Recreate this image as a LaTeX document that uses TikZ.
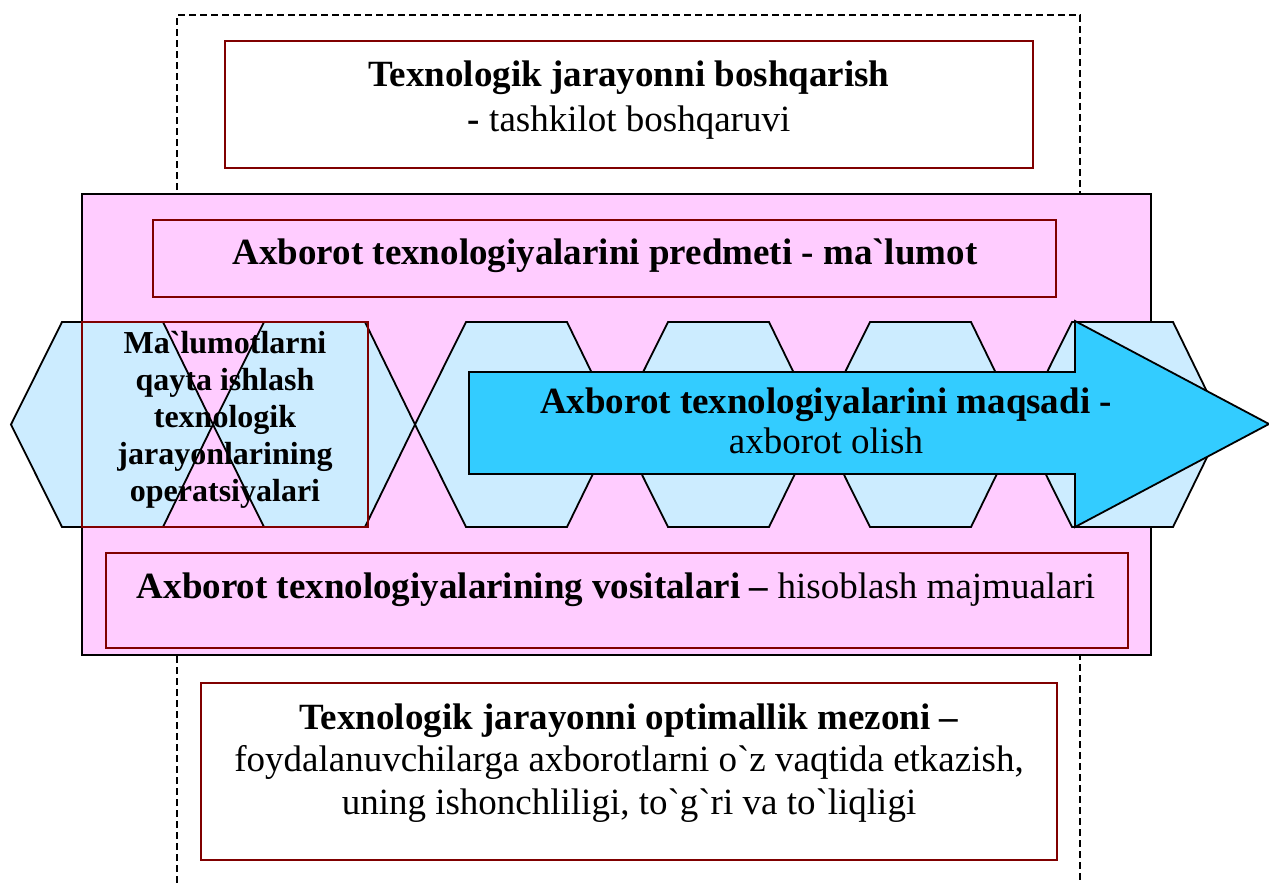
\documentclass[tikz,border=0pt]{standalone}
\usepackage{fontspec}
\setmainfont{Liberation Serif}[Ligatures=TeXOff]
\usepackage{xcolor}
\definecolor{boxred}{HTML}{800000}
\definecolor{pinkbg}{HTML}{FFCCFF}
\definecolor{hexblue}{HTML}{CCECFF}
\definecolor{arrowblue}{HTML}{33CCFF}
\usetikzlibrary{arrows,shapes,calc,positioning}

\begin{document}
\begin{tikzpicture}[x=1pt, y=-1pt]
	\tikzstyle{every node}=[font=\fontsize{37}{43}\selectfont, align=center, inner sep=0pt]
	\tikzstyle{redbox}=[draw=boxred, line width=1.8pt]
	\tikzstyle{hexa}=[draw=black, fill=hexblue, line width=1.8pt]
	\useasboundingbox (0,0) rectangle (1269,883);
	\draw [line width=1.3pt, dash pattern=on 7pt off 4pt] (177,883) -- (177,15) -- (1080,15) -- (1080,883);
	\draw [redbox, fill=white] (225,41) rectangle (1033,168);
	\node (control) [font=\fontsize{37}{45}\selectfont] at (629,100) {\textbf{Texnologik jarayonni boshqarish}\\\textbf{-} tashkilot boshqaruvi};
	\draw [line width=1.8pt, fill=pinkbg] (82,194) rectangle (1151,655);
	\draw [redbox, fill=pinkbg] (153,220) rectangle (1056,297);
	\node (subject) at (605,256) {\textbf{Axborot texnologiyalarini predmeti - ma`lumot}};
	\draw [hexa] (11,424.5) -- (62,322) -- (163,322) -- (213,424.5) -- (163,527) -- (62,527) -- cycle;
	\draw [hexa] (213,424.5) -- (264,322) -- (365,322) -- (415,424.5) -- (365,527) -- (264,527) -- cycle;
	\draw [hexa] (415,424.5) -- (466,322) -- (567,322) -- (617,424.5) -- (567,527) -- (466,527) -- cycle;
	\draw [hexa] (617,424.5) -- (668,322) -- (769,322) -- (819,424.5) -- (769,527) -- (668,527) -- cycle;
	\draw [hexa] (819,424.5) -- (870,322) -- (971,322) -- (1021,424.5) -- (971,527) -- (870,527) -- cycle;
	\draw [hexa] (1021,424.5) -- (1072,322) -- (1173,322) -- (1223,424.5) -- (1173,527) -- (1072,527) -- cycle;
	\draw [redbox] (82,322) rectangle (368,527);
	\node (operations) [font=\fontsize{32}{37}\selectfont\bfseries] at (225,420) {Ma`lumotlarni\\qayta ishlash\\texnologik\\jarayonlarining\\operatsiyalari};
	\draw [line width=1.8pt, fill=arrowblue] (469,372) -- (1075,372) -- (1075,321) -- (1269,424) -- (1075,527) -- (1075,474) -- (469,474) -- cycle;
	\node (goal) [font=\fontsize{37}{40}\selectfont] at (826,421) {\textbf{Axborot texnologiyalarini maqsadi -}\\axborot olish};
	\draw [redbox, fill=pinkbg] (106,553) rectangle (1128,648);
	\node (means) at (616,590) {\textbf{Axborot texnologiyalarining vositalari –} hisoblash majmualari};
	\draw [redbox, fill=white] (201,683) rectangle (1057,860);
	\node (criterion) [font=\fontsize{37}{42.5}\selectfont] at (629,763) {\textbf{Texnologik jarayonni optimallik mezoni –}\\foydalanuvchilarga axborotlarni o`z vaqtida etkazish,\\uning ishonchliligi, to`g`ri va to`liqligi};
\end{tikzpicture}
\end{document}
